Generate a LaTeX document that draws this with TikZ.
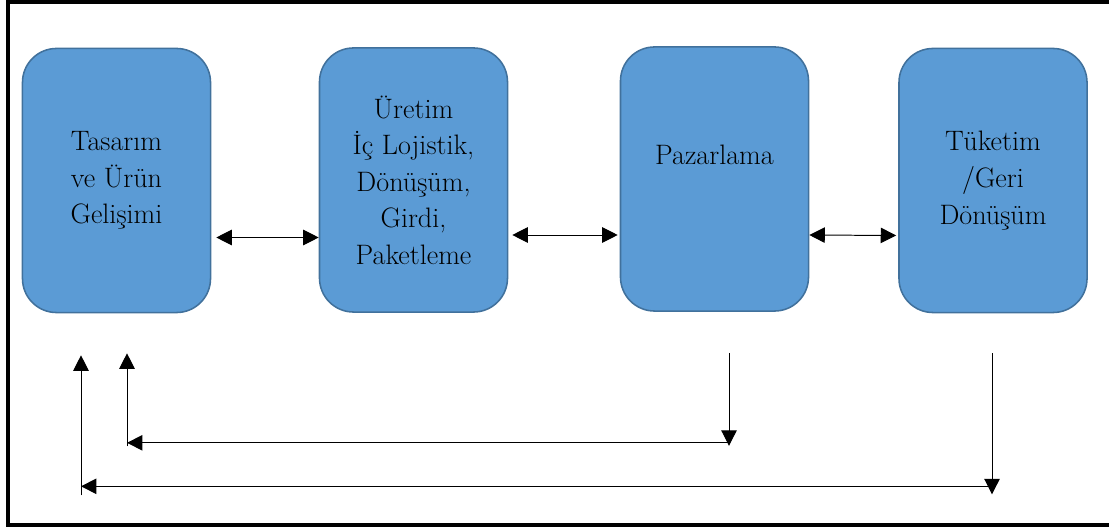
\documentclass[tikz,border=0pt]{standalone}
\usetikzlibrary{arrows.meta,calc}
\definecolor{kutumavi}{HTML}{5B9BD5}
\definecolor{kutukenar}{HTML}{41719C}

\begin{document}
\begin{tikzpicture}[x=0.025cm, y=-0.025cm,
    blok/.style={draw=kutukenar, line width=1.1pt, fill=kutumavi, rounded corners=0.85cm,
                 minimum width=4.7cm, minimum height=6.6cm, align=center, inner sep=0pt,
                 font=\fontsize{20}{26}\selectfont},
    ok/.style={line width=0.7pt, -{Triangle[length=11pt, width=11pt]}},
    ciftok/.style={line width=0.7pt, {Triangle[length=11pt, width=11pt]}-{Triangle[length=11pt, width=11pt]}}]

        \useasboundingbox (0,0) rectangle (1109,530);
        \draw[line width=2.2pt] (1130,2) -- (8,2) -- (8,525) -- (1130,525);

        \node[blok] (tas) at (116.5,180.5) {Tasarım\\ve Ürün\\Gelişimi};
        \node[blok] (ure) at (413.5,180) {Üretim\\İç Lojistik,\\Dönüşüm,\\Girdi,\\Paketleme};
        \node[blok] (paz) at (714.5,179) {Pazarlama\\[8pt]};
        \node[blok] (tuk) at (993,180.5) {Tüketim\\/Geri\\Dönüşüm};

        \draw[ciftok] ($(tas.east)+(5,57)$) -- (ure.west |- {$(tas.east)+(5,57)$});
        \draw[ciftok] ($(ure.east)+(4,55)$) -- ($(paz.west)+(-2,56)$);
        \draw[ciftok] ($(paz.east)+(0,56)$) -- ($(tuk.west)+(-2,55)$);

        % geri donus oklari
        \coordinate (p1) at ($(paz.south)+(14.5,41)$);
        \coordinate (p2) at ($(paz.south)+(14.5,134)$);
        \coordinate (p3) at ($(tas.south)+(10.5,133)$);
        \coordinate (p4) at ($(tas.south)+(10.5,40)$);
        \coordinate (h1) at ($(p2)+(0,-3)$);
        \draw[ok] (p1) -- (p2);
        \draw[ok] (h1) -- (p3 |- h1);
        \draw[ok] (p3) -- (p4);

        \coordinate (t1) at ($(tuk.south)+(-1,40)$);
        \coordinate (t2) at ($(tuk.south)+(-1,181)$);
        \coordinate (t3) at ($(tas.south)+(-35.5,182)$);
        \coordinate (t4) at ($(tas.south)+(-35.5,42)$);
        \coordinate (h2) at ($(t2)+(0,-8)$);
        \draw[ok] (t1) -- (t2);
        \draw[ok] (h2) -- (t3 |- h2);
        \draw[ok] (t3) -- (t4);

\end{tikzpicture}
\end{document}
